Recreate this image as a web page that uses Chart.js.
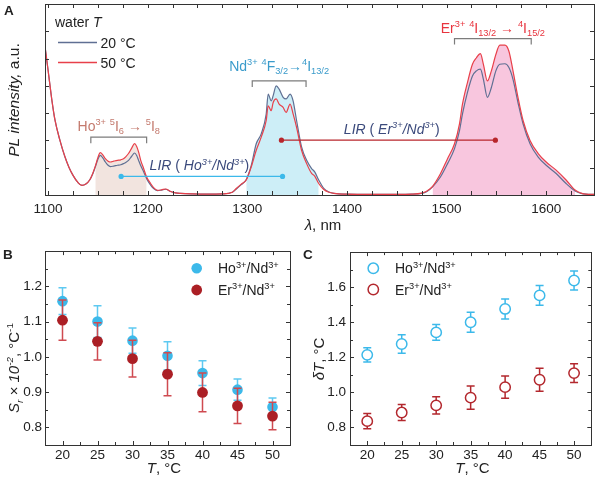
<!DOCTYPE html>
<html><head><meta charset="utf-8">
<script src="https://cdn.jsdelivr.net/npm/chart.js@4.4.1/dist/chart.umd.min.js"></script>
<style>
html,body{margin:0;padding:0;background:#fff;width:598px;height:481px;overflow:hidden}
canvas{position:absolute}
#cA{left:0;top:0}
#cB{left:0;top:240px}
#cC{left:300px;top:240px}
</style></head><body>
<canvas id="cA" width="598" height="240"></canvas>
<canvas id="cB" width="300" height="241"></canvas>
<canvas id="cC" width="298" height="241"></canvas>
<script>
// ---------- DATA ----------
const wavelength = [1097,1100,1104,1107,1112,1117,1121,1125,1130,1134,1138,1142,1145,1147.5,1150,1152.5,1155,1157.6,1160,1162.6,1166,1169.7,1173,1175.8,1178,1180.8,1184,1186.9,1189,1190.9,1193,1196,1199,1203,1206,1210,1214,1218,1223,1228,1233,1245,1260,1275,1285,1289,1294,1299,1304,1309,1314,1319,1321,1324,1326,1329,1332,1336,1339,1343,1346,1349.5,1354.5,1359.6,1364.6,1367.7,1371.7,1376.8,1382,1387,1400,1425,1450,1465,1475,1480,1486,1494,1501,1508,1513,1516,1521,1526,1530,1534,1537,1541,1545,1549.5,1553.5,1558.6,1562.6,1566.7,1571.7,1576.8,1583.8,1592,1600,1610,1620,1629,1635,1640,1648];
const pl20C = [5.45,4.6,3.45,2.75,2.0,1.4,1.02,0.73,0.46,0.35,0.40,0.56,0.78,1.03,1.30,1.45,1.36,1.21,1.10,1.04,1.06,1.09,1.11,1.15,1.19,1.27,1.42,1.54,1.45,1.27,1.08,0.85,0.60,0.36,0.24,0.16,0.18,0.21,0.13,0.08,0.06,0.04,0.03,0.04,0.10,0.22,0.38,0.57,1.08,1.88,2.24,2.97,3.70,3.45,3.64,4.00,3.88,3.58,3.52,3.70,3.45,2.73,1.76,1.27,0.97,0.85,0.55,0.24,0.11,0.06,0.03,0.02,0.02,0.03,0.06,0.12,0.30,0.67,1.15,1.70,2.36,2.97,3.76,4.36,4.55,4.61,4.24,3.58,3.94,4.55,4.79,4.81,4.67,4.24,3.39,2.61,1.88,1.39,1.09,0.79,0.42,0.15,0.06,0.03,0.02];
const pl50C = [5.45,4.6,3.45,2.75,2.0,1.4,1.02,0.73,0.46,0.35,0.40,0.56,0.80,1.06,1.36,1.55,1.47,1.33,1.25,1.21,1.24,1.27,1.29,1.33,1.40,1.52,1.72,1.88,1.78,1.58,1.28,0.97,0.66,0.42,0.27,0.17,0.19,0.22,0.13,0.08,0.06,0.04,0.03,0.04,0.10,0.24,0.40,0.55,1.03,1.64,2.12,2.73,3.27,3.09,3.39,3.52,3.33,3.21,3.03,3.33,2.97,2.48,1.64,1.15,0.79,0.69,0.42,0.20,0.10,0.06,0.03,0.02,0.02,0.03,0.07,0.14,0.32,0.79,1.33,1.88,2.61,3.33,4.12,4.79,5.03,5.18,4.79,4.18,4.55,5.15,5.49,5.49,5.27,4.55,3.58,2.73,2.00,1.52,1.21,0.91,0.55,0.18,0.07,0.03,0.02];
const hoBand = [1147.5, 1199];
const ndBand = [1299, 1371.7];
const erBand = [1486, 1629];
const specTickLabels = [1100,1200,1300,1400,1500,1600];

const temps = [20,25,30,35,40,45,50];
const srHo = [1.158,1.100,1.046,1.003,0.954,0.907,0.858];
const srHoErr = [0.038,0.045,0.036,0.040,0.035,0.030,0.025];
const srEr = [1.104,1.044,0.995,0.951,0.899,0.861,0.832];
const srErErr = [0.057,0.053,0.052,0.061,0.055,0.050,0.039];
const dtHo = [1.214,1.276,1.342,1.400,1.476,1.553,1.638];
const dtHoErr = [0.040,0.053,0.045,0.057,0.057,0.056,0.054];
const dtEr = [0.836,0.885,0.926,0.970,1.030,1.072,1.110];
const dtErErr = [0.044,0.046,0.049,0.066,0.063,0.065,0.054];
const tTickLabels = [20,25,30,35,40,45,50];
const srTickLabels = [0.8,0.9,1.0,1.1,1.2];
const dtTickLabels = [0.8,1.0,1.2,1.4,1.6];

// ---------- STYLE / HELPERS ----------
const FONT = '"Liberation Sans", Arial, Helvetica, sans-serif';
const TXT = '#222';
const C20 = '#5f6f93', C50 = '#e8404a';
const CYAN = '#3cb9ea', DRED = '#ab1f25';
const N = (t,it)=>({t,it}), SUP=(t,it)=>({t,sup:1,it}), SUB=(t,it)=>({t,sub:1,it});

function drawRich(ctx, segs, x, y, o){
  const size=o.size, small=size*0.66;
  const parts=segs.map(s=>{
    const sz=(s.sup||s.sub)?small:size;
    const font=(s.it?'italic ':'')+(o.bold?'bold ':'')+sz+'px '+FONT;
    ctx.font=font;
    return {s,font,w:ctx.measureText(s.t).width,dy:s.sup?-size*0.4:(s.sub?size*0.24:0)};
  });
  const total=parts.reduce((a,p)=>a+p.w,0);
  let cx=o.align==='center'?x-total/2:(o.align==='right'?x-total:x);
  ctx.save();
  ctx.fillStyle=o.color||TXT; ctx.textBaseline='alphabetic'; ctx.textAlign='left';
  for(const p of parts){ctx.font=p.font;ctx.fillText(p.s.t,cx,y+p.dy);cx+=p.w;}
  ctx.restore();
}
function drawRot(ctx, segs, x, y, o){
  ctx.save(); ctx.translate(x,y); ctx.rotate(-Math.PI/2);
  drawRich(ctx,segs,0,0,Object.assign({align:'center'},o)); ctx.restore();
}
function frameAndTicks(chart, o){
  const {ctx, chartArea:a, scales:{x,y}} = chart;
  ctx.save(); ctx.strokeStyle='#333'; ctx.lineWidth=1;
  ctx.beginPath();
  const tk=(v,len,axis)=>{
    if(axis==='x'){const p=Math.round(x.getPixelForValue(v))+0.5;
      ctx.moveTo(p,a.bottom);ctx.lineTo(p,a.bottom-len);ctx.moveTo(p,a.top);ctx.lineTo(p,a.top+len);}
    else {const p=Math.round(y.getPixelForValue(v))+0.5;
      ctx.moveTo(a.left,p);ctx.lineTo(a.left+len,p);ctx.moveTo(a.right,p);ctx.lineTo(a.right-len,p);}
  };
  o.xMajor.forEach(v=>tk(v,o.majLen,'x')); o.xMinor.forEach(v=>tk(v,o.minLen,'x'));
  o.yMajor.forEach(v=>tk(v,o.majLen,'y')); o.yMinor.forEach(v=>tk(v,o.minLen,'y'));
  ctx.stroke();
  ctx.strokeRect(Math.round(a.left)+0.5,Math.round(a.top)+0.5,Math.round(a.right-a.left),Math.round(a.bottom-a.top));
  ctx.restore();
}
function range(a,b,s){const r=[];for(let v=a;v<=b+1e-9;v+=s)r.push(+v.toFixed(4));return r;}

// ---------- PANEL A ----------
const pts=(xs,ys)=>xs.map((x,i)=>({x,y:ys[i]}));
function band(lim){const out=[];wavelength.forEach((w,i)=>{if(w>=lim[0]&&w<=lim[1])out.push({x:w,y:Math.max(pl20C[i],pl50C[i])});});return out;}
const brackets=[{from:1143,to:1199,top:2.12,drop:0.22},{from:1305,to:1359,top:4.18,drop:0.22},{from:1508,to:1585,top:5.73,drop:0.21}];
const lirHo={from:1173.4,to:1335.4,level:0.68};
const lirEr={from:1334.3,to:1549,level:2.01};

const dsA=[
  {data:pts(wavelength,pl50C),borderColor:C50,borderWidth:1.2,pointRadius:0,cubicInterpolationMode:'monotone',fill:false,order:1},
  {data:pts(wavelength,pl20C),borderColor:C20,borderWidth:1.2,pointRadius:0,cubicInterpolationMode:'monotone',fill:false,order:2},
  {data:band(hoBand),backgroundColor:'#f2e4df',borderWidth:0,pointRadius:0,cubicInterpolationMode:'monotone',fill:'origin',order:3},
  {data:band(ndBand),backgroundColor:'#cdeef7',borderWidth:0,pointRadius:0,cubicInterpolationMode:'monotone',fill:'origin',order:3},
  {data:band(erBand),backgroundColor:'#f8c6de',borderWidth:0,pointRadius:0,cubicInterpolationMode:'monotone',fill:'origin',order:3},
];
brackets.forEach(b=>dsA.push({data:[{x:b.from,y:b.top-b.drop},{x:b.from,y:b.top},{x:b.to,y:b.top},{x:b.to,y:b.top-b.drop}],borderColor:'#7c7c7c',borderWidth:1.2,pointRadius:0,tension:0,fill:false,order:0}));
dsA.push({data:[{x:lirHo.from,y:lirHo.level},{x:lirHo.to,y:lirHo.level}],borderColor:CYAN,backgroundColor:CYAN,borderWidth:1.3,pointRadius:2.6,pointBorderWidth:0,pointBackgroundColor:CYAN,tension:0,fill:false,order:0});
dsA.push({data:[{x:lirEr.from,y:lirEr.level},{x:lirEr.to,y:lirEr.level}],borderColor:'#b8262c',backgroundColor:'#b8262c',borderWidth:1.3,pointRadius:2.6,pointBorderWidth:0,pointBackgroundColor:'#b8262c',tension:0,fill:false,order:0});

const annA=[
  {x:1171,y:2.36,color:'#c47a6e',segs:[N('Ho'),SUP('3+'),N(' '),SUP('5'),N('I'),SUB('6'),N(' → '),SUP('5'),N('I'),SUB('8')]},
  {x:1332,y:4.55,color:'#3a9bcb',segs:[N('Nd'),SUP('3+'),N(' '),SUP('4'),N('F'),SUB('3/2'),N('→'),SUP('4'),N('I'),SUB('13/2')]},
  {x:1546.5,y:5.94,color:'#e8343e',segs:[N('Er'),SUP('3+'),N(' '),SUP('4'),N('I'),SUB('13/2'),N(' → '),SUP('4'),N('I'),SUB('15/2')]},
  {x:1252,y:0.91,color:'#3b4a7c',segs:[N('LIR',1),N(' ( '),N('Ho',1),SUP('3+',1),N('/Nd',1),SUP('3+',1),N(')')]},
  {x:1445,y:2.24,color:'#3b4a7c',segs:[N('LIR',1),N(' ( '),N('Er',1),SUP('3+',1),N('/Nd',1),SUP('3+',1),N(')')]},
];

new Chart(document.getElementById('cA'),{
  type:'line',
  data:{datasets:dsA},
  options:{responsive:false,animation:false,events:[],
    layout:{padding:{left:0,right:3,top:2,bottom:0}},
    plugins:{legend:{display:false},tooltip:{enabled:false}},
    scales:{
      x:{type:'linear',min:1097,max:1648,grid:{display:false,drawTicks:false},border:{display:false},
        afterBuildTicks:s=>{s.ticks=specTickLabels.map(v=>({value:v}));},
        afterFit:s=>{s.height=45;},
        ticks:{color:TXT,padding:6,font:{family:FONT,size:13.5},maxRotation:0,callback:v=>String(v)}},
      y:{min:0,max:7,grid:{display:false,drawTicks:false},border:{display:false},ticks:{display:false},afterFit:s=>{s.width=45;}}
    }},
  plugins:[{id:'decoA',afterDraw(chart){
    const ctx=chart.ctx,{x,y}=chart.scales;
    frameAndTicks(chart,{xMajor:range(1100,1600,100),xMinor:range(1125,1625,25).filter(v=>v%100!==0),yMajor:range(1,6,1),yMinor:[],majLen:4,minLen:4});
    annA.forEach(a=>drawRich(ctx,a.segs,x.getPixelForValue(a.x),y.getPixelForValue(a.y),{size:14,color:a.color,align:'center'}));
    // legend
    drawRich(ctx,[N('water '),N('T',1)],55,27,{size:14});
    ctx.save();ctx.lineWidth=1.3;
    ctx.strokeStyle=C20;ctx.beginPath();ctx.moveTo(58,42.5);ctx.lineTo(97,42.5);ctx.stroke();
    ctx.strokeStyle=C50;ctx.beginPath();ctx.moveTo(58,62.5);ctx.lineTo(97,62.5);ctx.stroke();
    ctx.restore();
    drawRich(ctx,[N('20 °C')],100.5,48,{size:14});
    drawRich(ctx,[N('50 °C')],100.5,68,{size:14});
    // titles
    drawRich(ctx,[N('λ',1),N(', nm')],323,230,{size:15,align:'center'});
    drawRot(ctx,[N('PL intensity,',1),N(' a.u.')],19,100,{size:15.5});
    drawRich(ctx,[N('A')],4,15,{size:13.5,bold:true});
  }}]
});

// ---------- PANELS B & C ----------
const errPlugin={id:'err',beforeDatasetDraw(chart,args){
  const ds=chart.data.datasets[args.index]; if(!ds.err) return;
  const ctx=chart.ctx,{x,y}=chart.scales;
  ctx.save();ctx.strokeStyle=ds.errColor;ctx.lineWidth=1.5;ctx.beginPath();
  ds.data.forEach((p,i)=>{
    const px=x.getPixelForValue(p.x),y1=y.getPixelForValue(p.y+ds.err[i]),y2=y.getPixelForValue(p.y-ds.err[i]);
    ctx.moveTo(px,y1);ctx.lineTo(px,y2);ctx.moveTo(px-4,y1);ctx.lineTo(px+4,y1);ctx.moveTo(px-4,y2);ctx.lineTo(px+4,y2);
  });
  ctx.stroke();ctx.restore();
}};

function scatterPanel(id,cfg){
  new Chart(document.getElementById(id),{
    type:'scatter',
    data:{datasets:cfg.datasets},
    options:{responsive:false,animation:false,events:[],
      layout:{padding:cfg.padding},
      plugins:{legend:{display:false},tooltip:{enabled:false}},
      scales:{
        x:{type:'linear',min:17.5,max:52.5,grid:{display:false,drawTicks:false},border:{display:false},
          afterBuildTicks:s=>{s.ticks=tTickLabels.map(v=>({value:v}));},
          afterFit:s=>{s.height=36;},
          ticks:{color:TXT,padding:2,font:{family:FONT,size:13.5},maxRotation:0,callback:v=>String(v)}},
        y:{min:cfg.ymin,max:cfg.ymax,grid:{display:false,drawTicks:false},border:{display:false},
          afterBuildTicks:s=>{s.ticks=cfg.yLabels.map(v=>({value:v}));},
          afterFit:s=>{s.width=cfg.yWidth;},
          ticks:{color:TXT,padding:cfg.yPad,font:{family:FONT,size:13.5},callback:v=>v.toFixed(1)}}
      }},
    plugins:[errPlugin,{id:'deco'+id,afterDraw(chart){
      frameAndTicks(chart,{xMajor:tTickLabels,xMinor:range(22.5,47.5,5),yMajor:cfg.yLabels,yMinor:cfg.yMinor,majLen:4,minLen:3});
      cfg.deco(chart.ctx);
    }}]
  });
}

const legendItems=[[N('Ho'),SUP('3+'),N('/Nd'),SUP('3+')],[N('Er'),SUP('3+'),N('/Nd'),SUP('3+')]];

scatterPanel('cB',{
  padding:{left:0,right:10,top:11,bottom:0},ymin:0.75,ymax:1.3,yWidth:45,yPad:3,
  yLabels:srTickLabels,yMinor:range(0.75,1.25,0.1),
  datasets:[
    {data:pts(temps,srEr),err:srErErr,errColor:'#cf4a50',pointRadius:5.4,pointBackgroundColor:DRED,pointBorderWidth:0},
    {data:pts(temps,srHo),err:srHoErr,errColor:'#5ec9f1',pointRadius:5.3,pointBackgroundColor:CYAN,pointBorderWidth:0}
  ],
  deco(ctx){
    ctx.save();
    ctx.fillStyle=CYAN;ctx.beginPath();ctx.arc(196.7,28.3,5.3,0,7);ctx.fill();
    ctx.fillStyle=DRED;ctx.beginPath();ctx.arc(196.7,50,5.4,0,7);ctx.fill();
    ctx.restore();
    drawRich(ctx,legendItems[0],218,33.3,{size:14});
    drawRich(ctx,legendItems[1],218,55,{size:14});
    drawRich(ctx,[N('T',1),N(', °C')],164,233,{size:15,align:'center'});
    drawRot(ctx,[N('S',1),SUB('r',1),N(' × 10',1),SUP('-2',1),N(', °C'),SUP('-1')],19,128,{size:15});
    drawRich(ctx,[N('B')],3,19,{size:13.5,bold:true});
  }
});

scatterPanel('cC',{
  padding:{left:0,right:3,top:11,bottom:0},ymin:0.7,ymax:1.8,yWidth:50,yPad:4,
  yLabels:dtTickLabels,yMinor:range(0.7,1.7,0.2),
  datasets:[
    {data:pts(temps,dtEr),err:dtErErr,errColor:'#b3282e',pointRadius:5.2,pointBackgroundColor:'#fff',pointBorderColor:'#b3282e',pointBorderWidth:1.5},
    {data:pts(temps,dtHo),err:dtHoErr,errColor:CYAN,pointRadius:5.2,pointBackgroundColor:'#fff',pointBorderColor:CYAN,pointBorderWidth:1.5}
  ],
  deco(ctx){
    ctx.save();ctx.lineWidth=1.5;
    ctx.strokeStyle=CYAN;ctx.beginPath();ctx.arc(73.3,28.3,5.2,0,7);ctx.stroke();
    ctx.strokeStyle='#b3282e';ctx.beginPath();ctx.arc(73.3,49.5,5.2,0,7);ctx.stroke();
    ctx.restore();
    drawRich(ctx,legendItems[0],95,33.3,{size:14});
    drawRich(ctx,legendItems[1],95,54.5,{size:14});
    drawRich(ctx,[N('T',1),N(', °C')],172.5,233,{size:15,align:'center'});
    drawRot(ctx,[N('δT',1),N(', °C')],24,119,{size:15});
    drawRich(ctx,[N('C')],3,19,{size:13.5,bold:true});
  }
});
</script>
</body></html>
